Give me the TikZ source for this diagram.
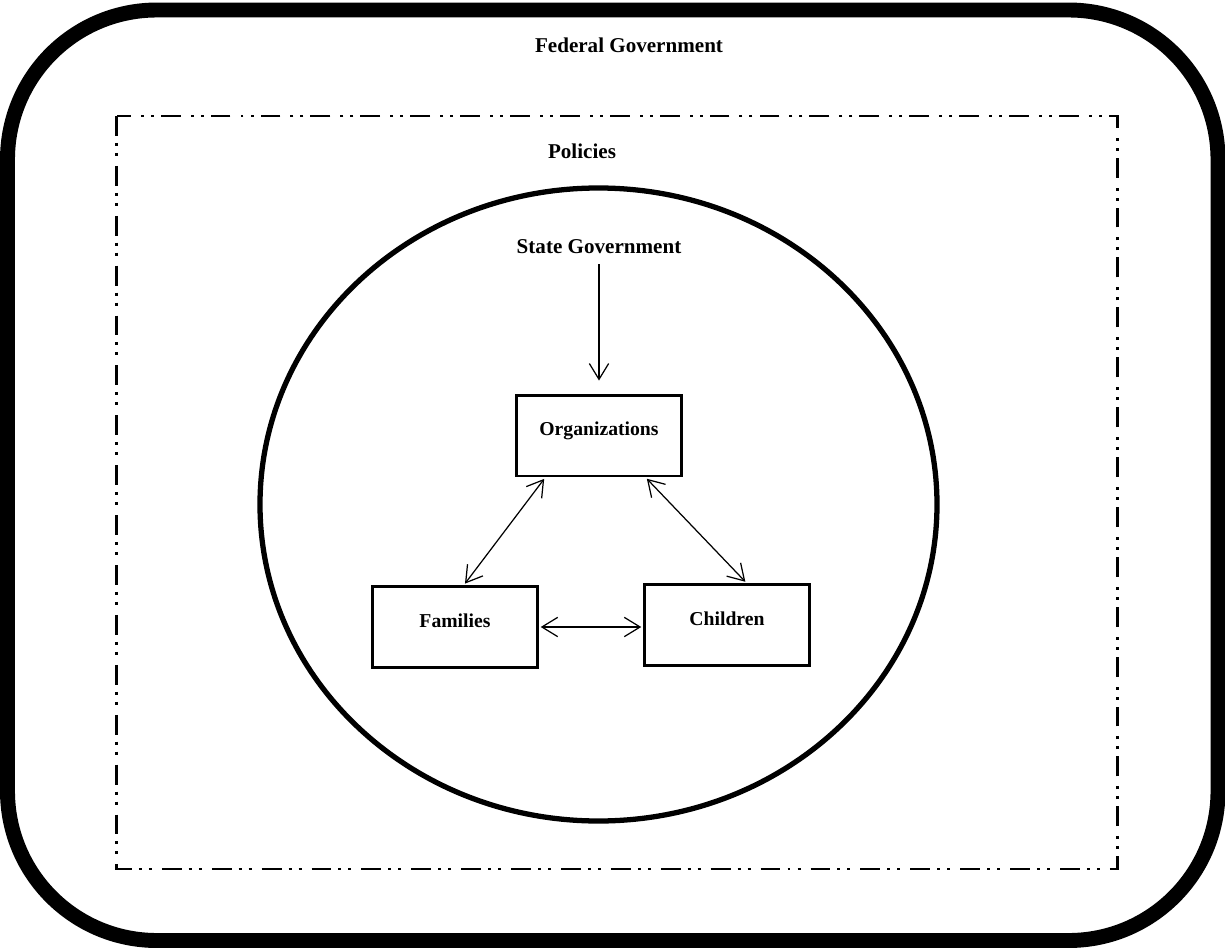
\documentclass[tikz,border=0pt]{standalone}
\usepackage{fontspec}
\setmainfont{Liberation Serif}
\usetikzlibrary{arrows.meta}
\tikzstyle{mylayerstyle}=[
    x=0.02cm, y=-0.02cm,
    >={Straight Barb[length=9pt,width=11pt]},
    font=\bfseries\fontsize{12}{14}\selectfont,
    every node/.style={inner sep=3pt},
]
\tikzstyle{entity}=[
    draw, line width=1.7pt,
    minimum width=3.3cm, minimum height=1.62cm,
    text height=8pt, text depth=8pt,
    font=\bfseries\fontsize{11.2}{13}\selectfont,
]
\tikzstyle{link}=[<->, line width=0.7pt, shorten <=1pt, shorten >=1pt]
\tikzstyle{policyline}=[line width=1.7pt,
    dash pattern=on 11.3pt off 4pt on 1.7pt off 4pt on 1.7pt off 5.7pt]

\begin{document}
\begin{tikzpicture}[mylayerstyle]
        \useasboundingbox (0,0) rectangle (1225,950);
        \draw[line width=8.5pt, rounded corners=85pt] (7.5,10) rectangle (1218,940.5);
        \draw[policyline] (116.5,116) rectangle (1117,869);
        \draw[line width=3pt] (598.5,504.5) ellipse [x radius=338.5, y radius=316.5];
        \node (federal) at (629,52) [anchor=base] {Federal Government};
        \node (policies) at (582,158) [anchor=base] {Policies};
        \node (stategov) at (599,253) [anchor=base] {State Government};
        \node (org) at (599,435.5) [entity] {Organizations};
        \node (fam) at (455,627) [entity] {Families};
        \node (chi) at (727,625) [entity] {Children};
        \draw[->, line width=0.7pt, shorten <=3pt, shorten >=7.4pt] (stategov) -- (org);
        \draw[link] (org.218) -- (fam.78);
        \draw[link] (org.318) -- (chi.65);
        \draw[link] (fam.east) -- (fam.east -| chi.west);
    \end{tikzpicture}
\end{document}
